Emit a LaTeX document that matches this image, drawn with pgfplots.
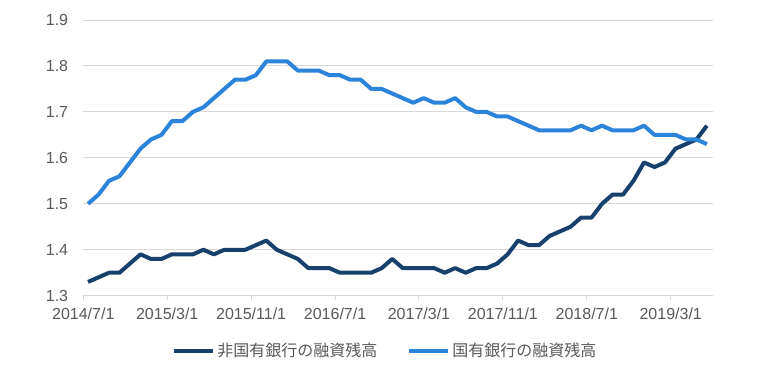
\documentclass[border=0pt]{standalone}
\usepackage{pgfplots}
\pgfplotsset{compat=1.18}
\usepackage{pgfplotstable}
\usepackage{fontspec}
\setmainfont{Liberation Sans}
\newfontfamily\jp{Noto Sans CJK JP}
\definecolor{darkser}{RGB}{24,64,108}
\definecolor{blueser}{RGB}{43,132,218}
\definecolor{txt}{RGB}{89,89,89}
\definecolor{grd}{RGB}{217,217,217}
\pgfplotstableread{
x a b
0.45 1.33 1.50
1.45 1.34 1.52
2.45 1.35 1.55
3.45 1.35 1.56
4.45 1.37 1.59
5.45 1.39 1.62
6.45 1.38 1.64
7.45 1.38 1.65
8.45 1.39 1.68
9.45 1.39 1.68
10.45 1.39 1.70
11.45 1.40 1.71
12.45 1.39 1.73
13.45 1.40 1.75
14.45 1.40 1.77
15.45 1.40 1.77
16.45 1.41 1.78
17.45 1.42 1.81
18.45 1.40 1.81
19.45 1.39 1.81
20.45 1.38 1.79
21.45 1.36 1.79
22.45 1.36 1.79
23.45 1.36 1.78
24.45 1.35 1.78
25.45 1.35 1.77
26.45 1.35 1.77
27.45 1.35 1.75
28.45 1.36 1.75
29.45 1.38 1.74
30.45 1.36 1.73
31.45 1.36 1.72
32.45 1.36 1.73
33.45 1.36 1.72
34.45 1.35 1.72
35.45 1.36 1.73
36.45 1.35 1.71
37.45 1.36 1.70
38.45 1.36 1.70
39.45 1.37 1.69
40.45 1.39 1.69
41.45 1.42 1.68
42.45 1.41 1.67
43.45 1.41 1.66
44.45 1.43 1.66
45.45 1.44 1.66
46.45 1.45 1.66
47.45 1.47 1.67
48.45 1.47 1.66
49.45 1.50 1.67
50.45 1.52 1.66
51.45 1.52 1.66
52.45 1.55 1.66
53.45 1.59 1.67
54.45 1.58 1.65
55.45 1.59 1.65
56.45 1.62 1.65
57.45 1.63 1.64
58.45 1.64 1.64
59.45 1.67 1.63
}\datatable
\begin{document}
\begin{tikzpicture}
\useasboundingbox (-83.3pt,-74.3pt) rectangle (696.7pt,295.7pt);
\begin{axis}[
  scale only axis,
  width=629.4pt, height=275.7pt,
  xmin=0, xmax=60, ymin=1.3, ymax=1.9,
  axis line style={draw=none},
  ymajorgrids, grid style={draw=grd, line width=1pt},
  ytick={1.3,1.4,...,1.95},
  xtick={0,8,16,24,32,40,48,56},
  xticklabels={2014/7/1,2015/3/1,2015/11/1,2016/7/1,2017/3/1,2017/11/1,2018/7/1,2019/3/1},
  tick pos=left,
  tick align=outside,
  major tick length=4pt,
  xtick style={draw=grd, line width=1pt},
  ytick style={draw=none},
  ticklabel style={font=\fontsize{16}{18}\selectfont, text=txt, inner sep=0pt},
  yticklabel style={/pgf/number format/fixed, /pgf/number format/precision=1, /pgf/number format/fixed zerofill, /pgf/number format/assume math mode=true, xshift=-11pt},
  xticklabel style={yshift=-8pt},
  legend columns=2,
  legend style={at={(0.480,-0.1995)}, anchor=center, draw=none, fill=none,
    font=\jp\fontsize{16}{18}\selectfont, text=txt,
    /tikz/every even column/.append style={column sep=28pt},
    nodes={inner sep=2pt}},
  legend image code/.code={\draw[#1] (0pt,0pt) -- (39pt,0pt);},
  line join=round,
]
\addplot[draw=darkser, line width=4pt] table[x=x, y=a] {\datatable};
\addlegendentry{非国有銀行の融資残高}
\addplot[draw=blueser, line width=4pt] table[x=x, y=b] {\datatable};
\addlegendentry{国有銀行の融資残高}
\end{axis}
\end{tikzpicture}
\end{document}
